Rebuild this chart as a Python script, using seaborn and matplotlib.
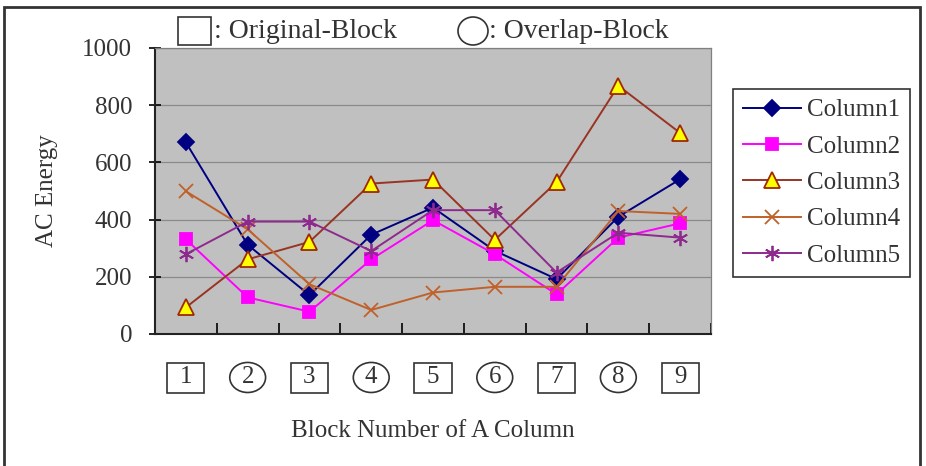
import numpy as np
import pandas as pd
import matplotlib
matplotlib.use("Agg")
import matplotlib.pyplot as plt
import matplotlib.patches as mpatches
import matplotlib.transforms as mtransforms
import seaborn as sns

# data
blocks = ["1", "2", "3", "4", "5", "6", "7", "8", "9"]
block_kind = ["square", "circle", "square", "circle", "square", "circle", "square", "circle", "square"]
column1 = [670, 312, 136, 347, 442, 291, 192, 410, 541]
column2 = [331, 128, 78, 261, 398, 279, 139, 337, 387]
column3 = [93, 261, 322, 526, 540, 329, 531, 868, 703]
column4 = [499, 366, 174, 84, 145, 165, 165, 430, 420]
column5 = [279, 393, 393, 290, 433, 433, 215, 354, 337]
series_names = ["Column1", "Column2", "Column3", "Column4", "Column5"]
y_ticks = [0, 200, 400, 600, 800, 1000]

styles = {
    "Column1": dict(color="#000080", marker="D", markersize=8, markerfacecolor="#000080", markeredgecolor="#000080"),
    "Column2": dict(color="#FF00FF", marker="s", markersize=9, markerfacecolor="#FF00FF", markeredgecolor="#FF00FF"),
    "Column3": dict(color="#993322", marker="^", markersize=11, markerfacecolor="#FFFF00", markeredgecolor="#A02800"),
    "Column4": dict(color="#C0602A", marker="x", markersize=10, markerfacecolor="#C0602A", markeredgecolor="#C0602A"),
    "Column5": dict(color="#8E2A8E", marker=(6, 2, 0), markersize=11, markerfacecolor="#8E2A8E", markeredgecolor="#8E2A8E"),
}

df = pd.DataFrame({"pos": np.arange(len(blocks))})
for name, vals in zip(series_names, [column1, column2, column3, column4, column5]):
    df[name] = vals

plt.rcParams["font.family"] = ["Liberation Serif", "DejaVu Serif"]
FS = 18
TXT = "#333333"

fig = plt.figure(figsize=(9.26, 4.66), dpi=100)
ax = fig.add_axes([155 / 926, 1 - 334 / 466, 556 / 926, 286 / 466])
ax.set_facecolor("#C0C0C0")

for name in series_names:
    st = styles[name]
    sns.lineplot(data=df, x="pos", y=name, ax=ax, label=name, linewidth=1.4,
                 markeredgewidth=1.3, **st)

ax.set_xlim(-0.5, len(blocks) - 0.5)
ax.set_ylim(0, 1000)
ax.set_yticks(y_ticks)
ax.set_yticklabels([str(v) for v in y_ticks], fontsize=FS, color=TXT)
ax.grid(axis="y", color="#8a8a8a", linewidth=0.9)
ax.set_axisbelow(True)
ax.tick_params(axis="y", direction="inout", length=9, width=1.2, pad=12)

ax.set_xticks(np.arange(len(blocks)))
ax.set_xticklabels([])
ax.tick_params(axis="x", which="major", length=0)
ax.set_xticks(np.arange(len(blocks) + 1) - 0.5, minor=True)
ax.tick_params(axis="x", which="minor", direction="in", length=8, width=1.2)

for side in ["left", "bottom"]:
    ax.spines[side].set_color("#222222")
    ax.spines[side].set_linewidth(1.5)
for side in ["top", "right"]:
    ax.spines[side].set_color("#808080")
    ax.spines[side].set_linewidth(0.9)

ax.set_xlabel("")
ax.set_ylabel("AC Energy", fontsize=FS, color=TXT)
ax.yaxis.set_label_coords(-0.175, 0.5)
ax.text(0.5, -0.34, "Block Number of A Column", transform=ax.transAxes,
        ha="center", va="center", fontsize=FS, color=TXT)

# boxed / circled block numbers under the axis
trans = mtransforms.blended_transform_factory(ax.transData, ax.transAxes)
for i, (lab, kind) in enumerate(zip(blocks, block_kind)):
    if kind == "square":
        patch = mpatches.Rectangle((i - 0.3, -0.205), 0.6, 0.105, transform=trans,
                                   fill=False, edgecolor="#333333", lw=1.2, clip_on=False)
    else:
        patch = mpatches.Ellipse((i, -0.152), 0.58, 0.105, transform=trans,
                                 fill=False, edgecolor="#333333", lw=1.2, clip_on=False)
    ax.add_patch(patch)
    ax.text(i, -0.152, lab, transform=trans, ha="center", va="center",
            fontsize=FS, color=TXT)

leg = ax.legend(loc="upper left", bbox_to_anchor=(733 / 926, 1 - 89 / 466),
                bbox_transform=fig.transFigure, borderaxespad=0, fontsize=FS,
                frameon=True, fancybox=False, framealpha=1, edgecolor="#333333",
                handlelength=2.3, handletextpad=0.25, labelspacing=0.55, borderpad=0.4)
leg.get_frame().set_linewidth(1.2)
for t in leg.get_texts():
    t.set_color(TXT)

# key for the block shapes at the top
fig.add_artist(mpatches.Rectangle((178 / 926, 1 - 45 / 466), 33 / 926, 28 / 466,
                                  transform=fig.transFigure, fill=False, edgecolor="#333333", lw=1.2))
fig.text(214 / 926, 1 - 31 / 466, ": Original-Block", ha="left", va="center",
         fontsize=20, color=TXT)
fig.add_artist(mpatches.Ellipse((473 / 926, 1 - 31 / 466), 30 / 926, 28 / 466,
                                transform=fig.transFigure, fill=False, edgecolor="#333333", lw=1.2))
fig.text(489 / 926, 1 - 31 / 466, ": Overlap-Block", ha="left", va="center",
         fontsize=20, color=TXT)

# outer frame
fig.add_artist(mpatches.Rectangle((4 / 926, -0.05), 916 / 926, 1.05 - 7 / 466,
                                  transform=fig.transFigure, fill=False, edgecolor="#333333", lw=2))

fig.savefig("out.png", dpi=100, facecolor="white")
